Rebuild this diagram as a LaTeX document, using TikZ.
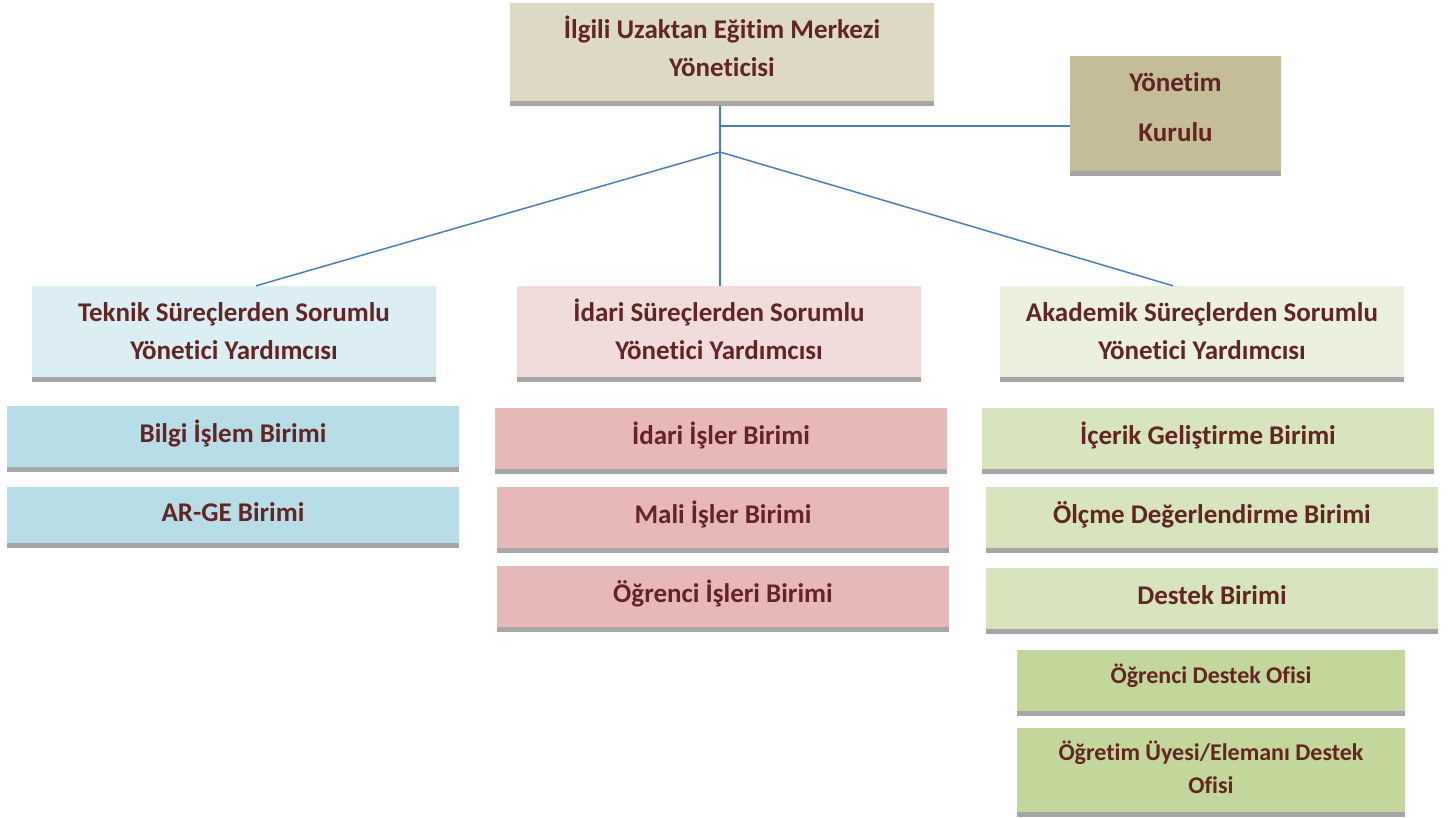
\documentclass[tikz,border=0pt]{standalone}
\usepackage{fontspec}
\setmainfont{Carlito}[Ligatures=NoCommon]
\usepackage{tikz}
\usetikzlibrary{positioning}

\definecolor{yazi}{HTML}{632523}
\definecolor{hat}{HTML}{4A7EBB}
\definecolor{golge}{HTML}{A6A6A6}
\definecolor{merkezbg}{HTML}{DDD9C3}
\definecolor{kurulbg}{HTML}{C4BD97}
\definecolor{teknikbg}{HTML}{DAEEF3}
\definecolor{teknikbirim}{HTML}{B7DDE8}
\definecolor{idaribg}{HTML}{F2DCDB}
\definecolor{idaribirim}{HTML}{E6B9B8}
\definecolor{akademikbg}{HTML}{EBF1DE}
\definecolor{akademikbirim}{HTML}{D7E4BD}
\definecolor{ofisbg}{HTML}{C3D69B}

\begin{document}
\begin{tikzpicture}[x=1pt,y=-1pt,
		kutu/.style={rectangle,inner sep=0pt,align=center,text=yazi,
			font=\bfseries\fontsize{27}{38}\selectfont,text height=11.5pt,text depth=4.5pt,
			path picture={\fill[golge] (path picture bounding box.south west) rectangle ([yshift=5pt]path picture bounding box.south east);}},
		yardimci/.style={kutu,minimum width=404pt,minimum height=96pt,text height=51pt,text depth=0pt},
		birim/.style={kutu,minimum width=452pt,minimum height=66pt},
		ofis/.style={kutu,minimum width=388pt,minimum height=66pt,font=\bfseries\fontsize{24}{33}\selectfont,text height=6pt,text depth=5pt},
		bag/.style={hat,line width=1.5pt}]
		\useasboundingbox (0,0) rectangle (1448,817);
		% yonetim
		\node[kutu,fill=merkezbg,minimum width=424pt,minimum height=103pt,text height=43pt,text depth=0pt] (merkez) at (722,54.5) {İlgili Uzaktan Eğitim Merkezi\\Yöneticisi};
		\node[kutu,fill=kurulbg,minimum width=211pt,minimum height=120pt,text height=51pt,text depth=0pt,
			font=\bfseries\fontsize{27}{50}\selectfont] (kurul) at (1175.5,116) {Yönetim\\Kurulu};
		% yonetici yardimcilari
		\node[yardimci,fill=teknikbg] (teknik) at (234,334) {Teknik Süreçlerden Sorumlu\\Yönetici Yardımcısı};
		\node[yardimci,fill=idaribg] (idari) at (719,334) {İdari Süreçlerden Sorumlu\\Yönetici Yardımcısı};
		\node[yardimci,fill=akademikbg] (akademik) at (1202,334) {Akademik Süreçlerden Sorumlu\\Yönetici Yardımcısı};
		% birimler
		\node[birim,fill=teknikbirim] (bilgi) at (233,439) {Bilgi İşlem Birimi};
		\node[birim,fill=teknikbirim,minimum height=61pt] (arge) at (233,517.5) {AR-GE Birimi};
		\node[birim,fill=idaribirim] (idariisler) at (721,441) {İdari İşler Birimi};
		\node[birim,fill=idaribirim] (mali) at (723,520) {Mali İşler Birimi};
		\node[birim,fill=idaribirim] (ogrisler) at (723,599) {Öğrenci İşleri Birimi};
		\node[birim,fill=akademikbirim] (icerik) at (1208,441) {İçerik Geliştirme Birimi};
		\node[birim,fill=akademikbirim] (olcme) at (1212,520) {Ölçme Değerlendirme Birimi};
		\node[birim,fill=akademikbirim] (destek) at (1212,601) {Destek Birimi};
		\node[ofis,fill=ofisbg] (ogrofis) at (1211,683) {Öğrenci Destek Ofisi};
		\node[ofis,fill=ofisbg,minimum height=89pt,text height=42pt,text depth=0pt] (ogretim) at (1211,772.5) {Öğretim Üyesi/Elemanı Destek\\Ofisi};
		% baglantilar
		\coordinate (kol) at (720,152);
		\coordinate (yk) at (720,126);
		\draw[bag] (kol |- merkez.south) -- (kol |- idari.north);
		\draw[bag] (yk) -- (yk -| kurul.west);
		\draw[bag] (kol) -- ([xshift=22pt]teknik.north);
		\draw[bag] (kol) -- ([xshift=-29pt]akademik.north);
	\end{tikzpicture}
\end{document}
